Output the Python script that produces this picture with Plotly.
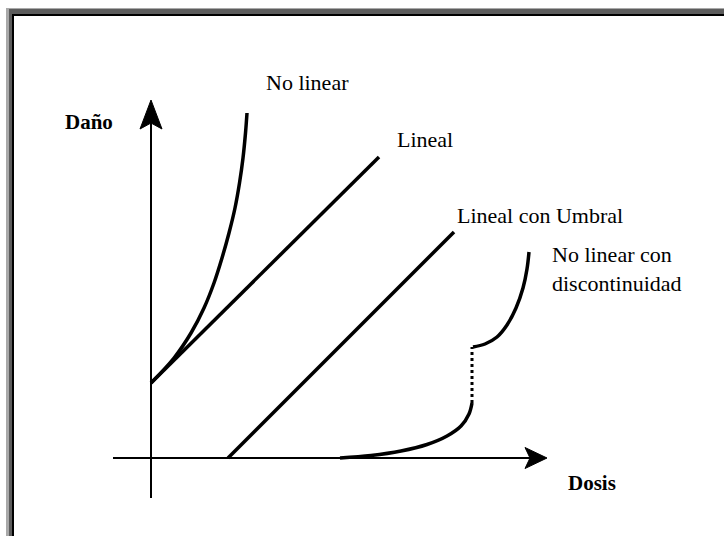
import plotly.graph_objects as go

# ---- Data (dose, damage) in diagram units (1 unit ~ 10 px) ----
lineal_dose = [0.0, 22.8]
lineal_damage = [7.5, 30.1]

nolin_dose = [0.0, 2.3, 4.0, 5.3, 6.3, 7.1, 7.8, 8.4, 8.85, 9.2, 9.45, 9.6]
nolin_damage = [7.5, 10.0, 12.5, 15.0, 17.5, 20.0, 22.5, 25.0, 27.5, 30.0, 32.5, 34.5]

umbral_dose = [7.7, 30.3]
umbral_damage = [0.0, 22.6]

disc_low_dose = [18.9, 22.0, 25.0, 27.6, 29.6, 31.0, 31.8, 32.1]
disc_low_damage = [0.0, 0.25, 0.7, 1.35, 2.2, 3.2, 4.4, 5.5]

disc_gap_dose = [32.1, 32.1]
disc_gap_damage = [5.5, 11.1]

disc_up_dose = [32.2, 33.4, 34.6, 35.6, 36.5, 37.2, 37.6, 37.8]
disc_up_damage = [11.1, 11.4, 12.1, 13.3, 15.0, 17.0, 18.9, 20.6]

# axis extents
x_axis_dose = [-3.8, 39.6]
y_axis_damage = [-4.0, 35.8]

labels = ["No linear", "Lineal", "Lineal con Umbral", "No linear con<br>discontinuidad"]
label_pos = [(15.6, 37.6, "center"), (27.4, 31.9, "center"), (30.4, 24.3, "left"), (39.9, 18.9, "left")]
axis_titles = ["Daño", "Dosis"]
axis_title_pos = [(-6.2, 33.6), (44.1, -2.5)]

W, H = 724, 536
FONT = "Liberation Serif, Times New Roman, serif"

fig = go.Figure()

curve = dict(color="black", width=3.5)
axis_line = dict(color="black", width=2)

# axes
fig.add_trace(go.Scatter(x=x_axis_dose[:1] + [x_axis_dose[1] - 1.0], y=[0, 0], mode="lines", line=axis_line))
fig.add_trace(go.Scatter(x=[0, 0], y=y_axis_damage[:1] + [y_axis_damage[1] - 2.0], mode="lines", line=axis_line))

# arrowheads (derived from axis ends)
tx = x_axis_dose[1]
fig.add_trace(go.Scatter(
    x=[tx, tx - 2.2, tx - 1.7, tx - 2.2, tx], y=[0, 1.05, 0, -1.05, 0],
    mode="lines", fill="toself", fillcolor="black", line=dict(color="black", width=1)))
ty = y_axis_damage[1]
fig.add_trace(go.Scatter(
    x=[0, -1.1, 0, 1.1, 0], y=[ty, ty - 2.9, ty - 2.3, ty - 2.9, ty],
    mode="lines", fill="toself", fillcolor="black", line=dict(color="black", width=1)))

# curves
fig.add_trace(go.Scatter(x=lineal_dose, y=lineal_damage, mode="lines", line=curve))
fig.add_trace(go.Scatter(x=nolin_dose, y=nolin_damage, mode="lines", line=dict(shape="spline", **curve)))
fig.add_trace(go.Scatter(x=umbral_dose, y=umbral_damage, mode="lines", line=curve))
fig.add_trace(go.Scatter(x=disc_low_dose, y=disc_low_damage, mode="lines", line=dict(shape="spline", **curve)))
fig.add_trace(go.Scatter(x=disc_gap_dose, y=disc_gap_damage, mode="lines",
                         line=dict(color="black", width=3, dash="3px,3px")))
fig.add_trace(go.Scatter(x=disc_up_dose, y=disc_up_damage, mode="lines", line=dict(shape="spline", **curve)))

for txt, (x, y, anc) in zip(labels, label_pos):
    fig.add_annotation(x=x, y=y, text=txt, showarrow=False, xanchor=anc, align="left",
                       font=dict(family=FONT, size=22, color="black"))
for txt, (x, y) in zip(axis_titles, axis_title_pos):
    fig.add_annotation(x=x, y=y, text="<b>" + txt + "</b>", showarrow=False,
                       font=dict(family=FONT, size=21, color="black"))

# frame (pixel -> paper)
def px(x):
    return x / W
def py(y):
    return 1 - y / H

frame = [(6, 8, "#a9a9a9"), (9, 9, "#5c5c5c"), (12, 14, "black"), (14, 16, "white")]
for x0, y0, col in frame:
    fig.add_shape(type="rect", xref="paper", yref="paper", x0=px(x0), y0=py(y0), x1=1.01, y1=-0.01,
                  fillcolor=col, line=dict(width=0), layer="below")

fig.update_layout(
    width=W, height=H, margin=dict(l=0, r=0, t=0, b=0),
    paper_bgcolor="white", plot_bgcolor="rgba(0,0,0,0)", showlegend=False, hovermode=False,
    xaxis=dict(range=[-15.1, 57.3], visible=False, fixedrange=True),
    yaxis=dict(range=[-7.8, 45.8], visible=False, fixedrange=True),
)

fig.write_html("out.html", config={"displayModeBar": False, "staticPlot": True},
               post_script="document.body.style.margin='0';")
